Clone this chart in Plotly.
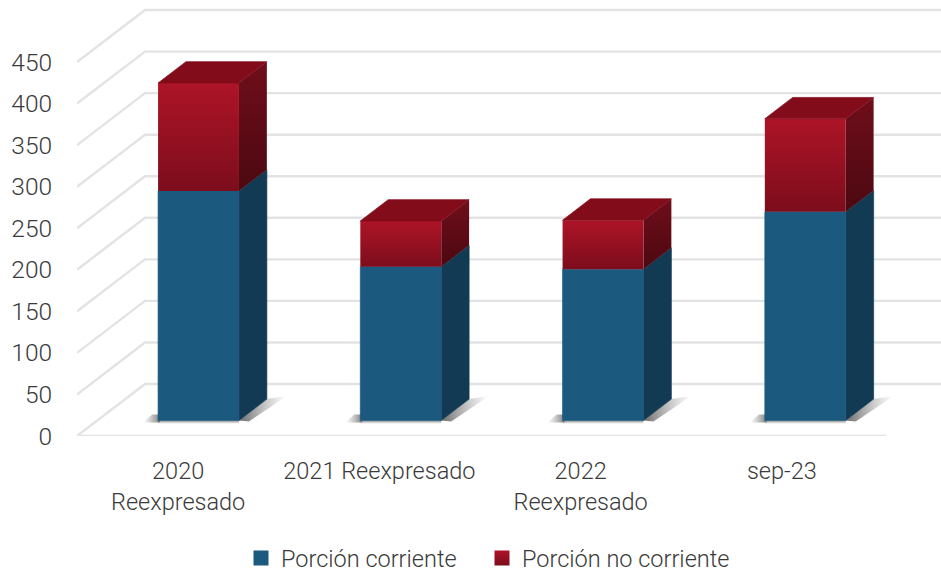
import plotly.graph_objects as go

categories = ["2020<br>Reexpresado", "2021 Reexpresado", "2022<br>Reexpresado", "sep-23"]
corriente = [276, 185, 182, 251]
no_corriente = [130, 55, 59, 112]
y_ticks = [0, 50, 100, 150, 200, 250, 300, 350, 400, 450]
series_names = ["Porción corriente", "Porción no corriente"]

PX_X = 202.3      # pixels per category
PX_Y = 0.831      # pixels per value unit
DX = 68 / PX_X    # full floor depth in category units
DY = 52 / PX_Y    # full floor depth in value units
D0, D1 = 0.30, 0.71
HALF = 0.2
LABEL_STEP = 201.3 / PX_X
FONT = "Roboto"
TXT = "#3a3a3a"

BLUE, BLUE_SIDE = "#1b5a7e", "#123a53"
RED_TOP, RED_BOT = "#ad1427", "#7c0d1c"
RED_ROOF = "#830c1b"
SIDE_TOP, SIDE_BOT = "#6f0e1b", "#4c0810"


def P(c, v, d):
    return c + d * DX, v + d * DY


def poly(points, color=None, grad=None):
    xs, ys = zip(*(points + [points[0]]))
    kw = dict(x=xs, y=ys, mode="lines", fill="toself", hoverinfo="skip", showlegend=False)
    if grad:
        kw["fillgradient"] = grad
        kw["line"] = dict(width=0)
    else:
        kw["fillcolor"] = color
        kw["line"] = dict(width=0.7, color=color)
    return go.Scatter(**kw)


def vgrad(low, high):
    return dict(type="vertical", colorscale=[[0, low], [1, high]])


def hgrad(left, right):
    return dict(type="horizontal", colorscale=[[0, left], [1, right]])


fig = go.Figure()

# gridlines: front edge -> back wall -> right
L, R = -0.5, len(categories) - 0.5
gx, gy = [], []
for t in y_ticks:
    a, b, c = P(L, t, 0), P(L, t, 1), P(R, t, 1)
    gx += [a[0], b[0], c[0], None]
    gy += [a[1], b[1], c[1], None]
a, b = P(L, 0, 0), P(R, 0, 0)
gx += [a[0], b[0]]
gy += [a[1], b[1]]
fig.add_trace(go.Scatter(x=gx, y=gy, mode="lines", line=dict(color="#e3e3e3", width=2.4),
                         hoverinfo="skip", showlegend=False))

SH = "rgba(70,70,70,0.7)"
CL = "rgba(120,120,120,0)"
ux, uy = 1 / PX_X, 1 / PX_Y
for i, (lo, up) in enumerate(zip(corriente, no_corriente)):
    xl, xr = i - HALF, i + HALF
    tot = lo + up
    fl = P(xl, 0, D0)
    fr = P(xr, 0, D0)
    br = P(xr, 0, D1)
    # floor shadows
    fig.add_trace(poly([(fl[0] - 15 * ux, fl[1] - 2 * uy),
                        (fl[0] + 2 * ux, fl[1] - 2 * uy),
                        (fl[0] + 2 * ux, fl[1] + 6 * uy),
                        (fl[0] - 6 * ux, fl[1] + 6 * uy)],
                       grad=hgrad(CL, SH)))
    fig.add_trace(poly([(fl[0], fl[1] - 3.5 * uy), (fr[0], fr[1] - 3.5 * uy), fr, fl],
                       grad=vgrad("rgba(150,150,150,0)", "rgba(100,100,100,0.85)")))
    fig.add_trace(poly([fr, br, (br[0] + 20 * ux, br[1] + 3 * uy), (fr[0] + 10 * ux, fr[1] - 1 * uy)],
                       grad=hgrad("rgba(70,70,70,0.8)", CL)))
    # blue block
    fig.add_trace(poly([P(xr, 0, D0), P(xr, 0, D1), P(xr, lo, D1), P(xr, lo, D0)], color=BLUE_SIDE))
    fig.add_trace(poly([P(xl, 0, D0), P(xr, 0, D0), P(xr, lo, D0), P(xl, lo, D0)], color=BLUE))
    # red block
    fig.add_trace(poly([P(xr, lo, D0), P(xr, lo, D1), P(xr, tot, D1), P(xr, tot, D0)],
                       grad=vgrad(SIDE_BOT, SIDE_TOP)))
    fig.add_trace(poly([P(xl, lo, D0), P(xr, lo, D0), P(xr, tot, D0), P(xl, tot, D0)],
                       grad=vgrad(RED_BOT, RED_TOP)))
    fig.add_trace(poly([P(xl, tot, D0), P(xr, tot, D0), P(xr, tot, D1), P(xl, tot, D1)], color=RED_ROOF))

# legend-only entries, one legend box each so their spacing can follow the reference
fig.add_trace(go.Scatter(x=[None], y=[None], mode="markers", name=series_names[0], legend="legend",
                         marker=dict(symbol="square", size=15, color=BLUE)))
fig.add_trace(go.Scatter(x=[None], y=[None], mode="markers", name=series_names[1], legend="legend2",
                         marker=dict(symbol="square", size=15, color=RED_TOP,
                                     gradient=dict(type="vertical", color=RED_BOT))))

legend_style = dict(yanchor="middle", xanchor="left", y=-0.2805, bgcolor="rgba(0,0,0,0)",
                    font=dict(family=FONT, size=23.5, color=TXT, weight=300), itemsizing="trace")

fig.update_layout(
    width=941, height=593,
    margin=dict(l=77, r=0, t=0, b=157, autoexpand=False),
    paper_bgcolor="white", plot_bgcolor="white",
    font=dict(family=FONT, size=23.5, color=TXT, weight=300),
    showlegend=True,
    legend=dict(x=(241 - 77) / 864, **legend_style),
    legend2=dict(x=(482 - 77) / 864, **legend_style),
    xaxis=dict(range=[L, R + (941 - 886) / PX_X], showgrid=False, zeroline=False, showline=False,
               tickmode="array", tickvals=[i * LABEL_STEP for i in range(len(categories))], ticktext=categories,
               ticks="outside", ticklen=14, tickcolor="rgba(0,0,0,0)",
               tickfont=dict(family=FONT, size=23.5, color=TXT, weight=300)),
    yaxis=dict(range=[0, 436 / PX_Y], showgrid=False, zeroline=False, showline=False,
               tickmode="array", tickvals=y_ticks,
               ticks="outside", ticklen=19, tickcolor="rgba(0,0,0,0)",
               tickfont=dict(family=FONT, size=24.5, color=TXT, weight=300)),
)

fig.write_html("out.html", config={"displayModeBar": False},
               post_script="document.body.style.margin='0';document.documentElement.style.overflow='hidden';")
